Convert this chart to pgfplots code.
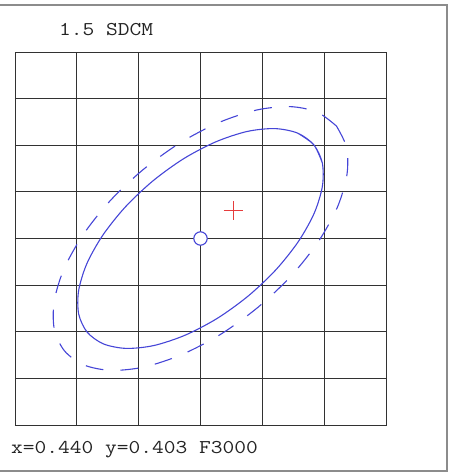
\documentclass[border=0pt]{standalone}
\usepackage{pgfplots}
\pgfplotsset{compat=1.18}
\usepackage{graphicx}
\definecolor{ellblue}{RGB}{70,70,215}
\definecolor{plusred}{RGB}{230,60,60}
\definecolor{gridc}{RGB}{50,50,50}
\definecolor{framec}{RGB}{140,140,140}
\definecolor{txtc}{RGB}{35,35,35}
\begin{document}
\begin{tikzpicture}[x=1pt,y=1pt]
\path[use as bounding box] (0,0) rectangle (450,472);
\draw[framec, line width=2pt] (-5,1) rectangle (446.5,467);
\node[anchor=base west, inner sep=0pt, text=txtc] at (59,436.3) {\scalebox{1.17}[1]{\fontsize{19.5}{20}\ttfamily 1.5 SDCM}};
\node[anchor=base west, inner sep=0pt, text=txtc] at (11,18.7) {\scalebox{1.17}[1]{\fontsize{19.5}{20}\ttfamily x=0.440 y=0.403 F3000}};
\begin{axis}[
  at={(15pt,47pt)}, anchor=south west,
  width=371pt, height=373pt, scale only axis,
  xmin=-185.5, xmax=185.5, ymin=-186.5, ymax=186.5,
  xtick={-185.5,-123.667,-61.833,0,61.833,123.667,185.5},
  ytick={-186.5,-139.875,-93.25,-46.625,0,46.625,93.25,139.875,186.5},
  xticklabels={}, yticklabels={},
  major tick length=0pt,
  grid=major,
  major grid style={draw=gridc, line width=0.9pt},
  axis line style={draw=gridc, line width=0.9pt},
  clip=false,
]
% solid ellipse (1.5 SDCM)
\addplot[ellblue, line width=1.1pt, smooth] coordinates {
(121.8,75.6) (113.3,93.7) (97.1,105.4) (74.3,109.9) (46.5,107.0) (15.4,96.7) (-16.7,79.9)
(-47.6,57.6) (-75.3,31.4) (-97.9,3.0) (-113.8,-25.5) (-121.9,-52.3) (-121.8,-75.6)
(-113.3,-93.7) (-97.1,-105.4) (-74.3,-109.9) (-46.5,-107.0) (-15.4,-96.7) (16.7,-79.9)
(47.6,-57.6) (75.3,-31.4) (97.9,-3.0) (113.8,25.5) (121.9,52.3) (121.8,75.6)
(113.3,93.7) (97.1,105.4)
};
% dashed ellipse
\addplot[ellblue, line width=1.1pt, smooth, dash pattern=on 18pt off 17pt] coordinates {
(136.0,112.4) (116.5,126.5) (89.2,131.9) (55.8,128.4) (18.5,116.0) (-20.0,95.9)
(-57.1,69.1) (-90.4,37.7) (-117.5,3.6) (-136.6,-30.6) (-146.3,-62.8) (-146.2,-90.7)
(-136.0,-112.4) (-116.5,-126.5) (-89.2,-131.9) (-55.8,-128.4) (-18.5,-116.0) (20.0,-95.9)
(57.1,-69.1) (90.4,-37.7) (117.5,-3.6) (136.6,30.6) (146.3,62.8) (146.2,90.7)
(136.0,112.4)
};
% centre circle
\addplot[only marks, mark=*, mark size=6.7pt, mark options={draw=ellblue, fill=white, line width=1.1pt}] coordinates {(0,0)};
% red plus
\addplot[only marks, mark=+, mark size=9.5pt, mark options={draw=plusred, line width=1pt}] coordinates {(32.5,27.5)};
\end{axis}
\end{tikzpicture}
\end{document}
